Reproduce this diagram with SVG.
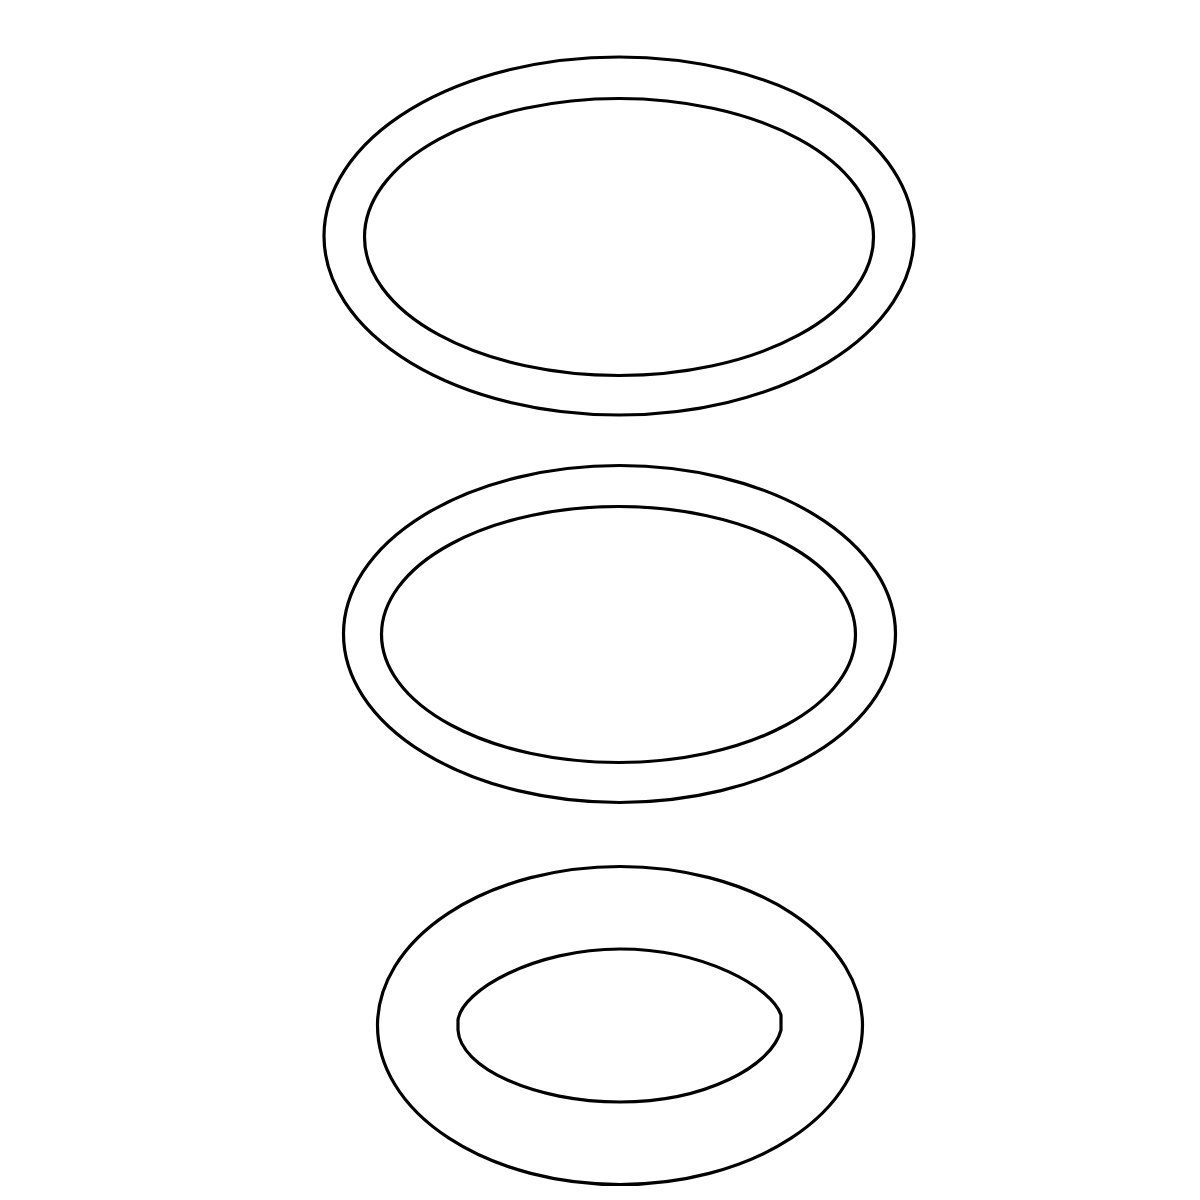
<svg xmlns="http://www.w3.org/2000/svg" width="1200" height="1200" viewBox="0 0 1200 1200">
<style>.r{fill:none;stroke:#000;stroke-width:3.2}</style>
<rect width="1200" height="1200" fill="#fff"/>
<g id="ring1">
<ellipse class="r" cx="619" cy="236" rx="295" ry="179"/>
<ellipse class="r" cx="619" cy="237" rx="254.5" ry="138.5"/>
</g>
<g id="ring2">
<ellipse class="r" cx="619.5" cy="634" rx="276" ry="168.5"/>
<ellipse class="r" cx="618.5" cy="634.5" rx="237" ry="128"/>
</g>
<g id="ring3">
<ellipse class="r" cx="620" cy="1025.5" rx="242.5" ry="159"/>
<path class="r" d="M458 1020 C462 990 535 949 620 949 C705 949 772 988 781 1015 L781 1030 C772 1066 705 1102 620 1102 C535 1102 460 1068 458 1030 Z"/>
</g>
</svg>
